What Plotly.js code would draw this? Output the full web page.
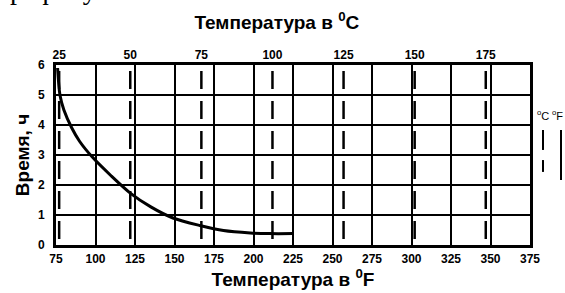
<!DOCTYPE html>
<html><head><meta charset="utf-8">
<script src="https://cdn.plot.ly/plotly-3.0.1.min.js"></script>
<style>html,body{margin:0;padding:0;background:#fff}#chart{width:565px;height:293px}</style>
</head><body><div id="chart"></div><script>
// Curve: time (hours) vs temperature (°F)
const tempF = [76, 77.5, 80, 85, 90, 98, 110, 122, 135, 149, 166, 181, 198, 210, 225];
const hours = [5.9, 5.0, 4.5, 3.9, 3.45, 2.93, 2.3, 1.73, 1.27, 0.9, 0.65, 0.48, 0.4, 0.38, 0.38];
// Axis ticks
const fTicks = [75, 100, 125, 150, 175, 200, 225, 250, 275, 300, 325, 350, 375];
const cTicks = [25, 50, 75, 100, 125, 150, 175];
const hourTicks = [0, 1, 2, 3, 4, 5, 6];

const fMin = fTicks[0], fMax = fTicks[fTicks.length - 1];
const toC = f => (f - 32) / 1.8;

// dashed °C grid lines (segments inside each hour cell)
const dx = [], dy = [];
cTicks.forEach(c => {
  for (let k = 0; k < hourTicks.length - 1; k++) {
    dx.push(c, c, null);
    dy.push(hourTicks[k] + 0.2, hourTicks[k] + 0.8, null);
  }
});

const traces = [
  {x: dx, y: dy, xaxis: 'x2', yaxis: 'y', mode: 'lines', connectgaps: false,
   line: {color: '#000', width: 2.5}, hoverinfo: 'skip', showlegend: false},
  {x: tempF, y: hours, xaxis: 'x', yaxis: 'y', mode: 'lines',
   line: {color: '#000', width: 3, shape: 'spline', smoothing: 0.8}, showlegend: false}
];

const tickFont = {family: 'Liberation Sans, Arial, sans-serif', size: 12, color: '#000', weight: 'bold'};
const titleFont = {family: 'Liberation Sans, Arial, sans-serif', size: 19, color: '#000', weight: 'bold'};

const layout = {
  width: 565, height: 293,
  margin: {l: 56, r: 35, t: 65, b: 48},
  paper_bgcolor: '#fff', plot_bgcolor: '#fff',
  showlegend: false,
  title: {text: 'Температура в <sup>0</sup>C', font: titleFont, x: 0.49, xanchor: 'center', y: 0.925, yanchor: 'middle', yref: 'container', xref: 'container'},
  xaxis: {
    range: [fMin, fMax], tickvals: fTicks, ticktext: fTicks.map(String),
    showgrid: true, gridcolor: '#000', gridwidth: 2,
    showline: true, linecolor: '#000', linewidth: 3, mirror: true,
    ticks: '', tickfont: tickFont, zeroline: false, ticklabelstandoff: 1,
    title: {text: 'Температура в <sup>0</sup>F', font: titleFont, standoff: 3}
  },
  xaxis2: {
    overlaying: 'x', side: 'top', range: [toC(fMin), toC(fMax)],
    tickvals: cTicks, ticktext: cTicks.map(String),
    showgrid: false, showline: false, zeroline: false, ticks: '',
    tickfont: tickFont, ticklabelstandoff: 3
  },
  yaxis: {
    range: [0, 6], tickvals: hourTicks, ticktext: hourTicks.map(String),
    showgrid: true, gridcolor: '#000', gridwidth: 2,
    showline: true, linecolor: '#000', linewidth: 3, mirror: true,
    ticks: '', tickfont: tickFont, zeroline: false, ticklabelstandoff: 6,
    title: {text: 'Время, ч', font: titleFont, standoff: 4}
  },
  shapes: [
    {type: 'line', xref: 'paper', yref: 'paper', x0: 1.0274, x1: 1.0274, y0: 0.528, y1: 0.639, line: {color: '#000', width: 2}},
    {type: 'line', xref: 'paper', yref: 'paper', x0: 1.0274, x1: 1.0274, y0: 0.406, y1: 0.472, line: {color: '#000', width: 2}},
    {type: 'line', xref: 'paper', yref: 'paper', x0: 1.0654, x1: 1.0654, y0: 0.361, y1: 0.639, line: {color: '#000', width: 2}}
  ],
  annotations: [
    {text: '<sup>o</sup>C', xref: 'paper', yref: 'paper', x: 1.0274, y: 0.72, showarrow: false,
     font: {family: 'Liberation Sans, Arial, sans-serif', size: 11, color: '#000'}, xanchor: 'center', yanchor: 'middle'},
    {text: '<sup>o</sup>F', xref: 'paper', yref: 'paper', x: 1.058, y: 0.72, showarrow: false,
     font: {family: 'Liberation Sans, Arial, sans-serif', size: 11, color: '#000'}, xanchor: 'center', yanchor: 'middle'},
    {text: 'рафику', xref: 'paper', yref: 'paper', x: -0.101, y: 1.322, showarrow: false,
     font: {family: 'Liberation Serif, Times New Roman, serif', size: 28, color: '#000'}, xanchor: 'left', yanchor: 'bottom'}
  ]
};

Plotly.newPlot('chart', traces, layout, {displayModeBar: false, staticPlot: true});
</script></body></html>
